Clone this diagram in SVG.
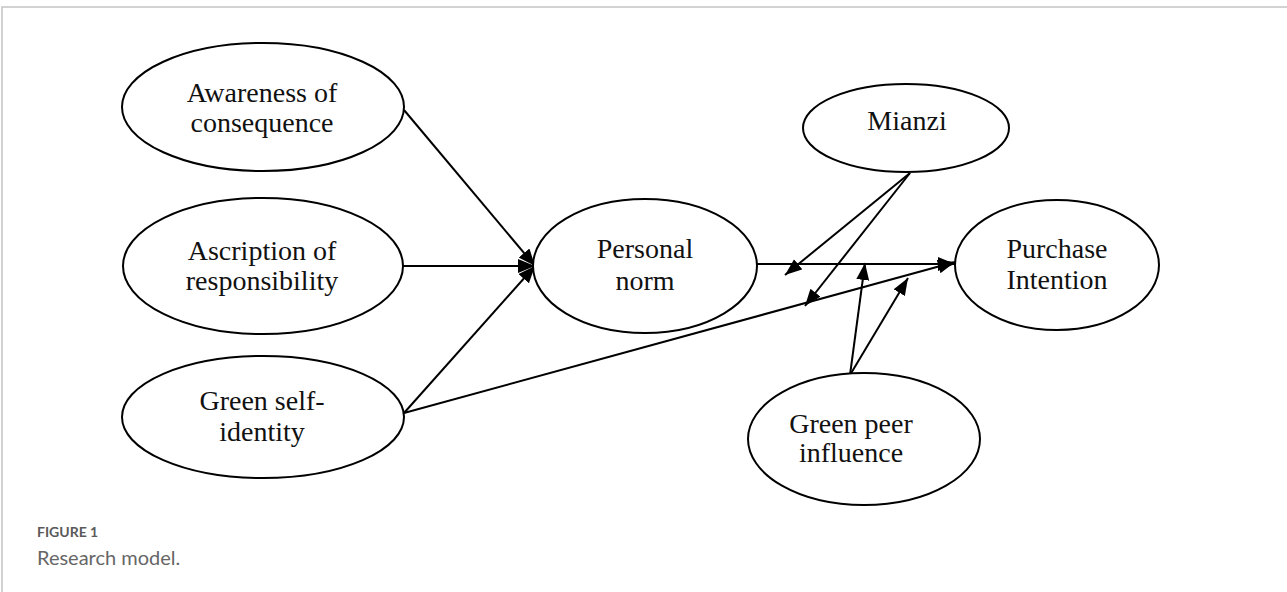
<svg xmlns="http://www.w3.org/2000/svg" width="1287" height="592" viewBox="0 0 1287 592">
<defs>
<style>
.node ellipse{fill:#fff;stroke:#000;stroke-width:2}
.node text{font-family:"Liberation Serif","Times New Roman",serif;font-size:28px;fill:#111;text-anchor:middle}
.conn line{stroke:#000;stroke-width:2}
.cap1{font-family:Lato,"Open Sans",sans-serif;font-size:14px;font-weight:700;fill:#5a5a5a}
.cap2{font-family:Lato,"Open Sans",sans-serif;font-size:20px;fill:#666}
</style>
<marker id="big" markerUnits="userSpaceOnUse" markerWidth="18" markerHeight="16" refX="17" refY="7" orient="auto">
<path d="M0,0 L17,7 L0,14 Z" fill="#000"/>
</marker>
<marker id="sm" markerUnits="userSpaceOnUse" markerWidth="18" markerHeight="14" refX="17" refY="6.5" orient="auto">
<path d="M0,0 L17,6.5 L0,13 Z" fill="#000"/>
</marker>
</defs>
<rect width="1287" height="592" fill="#fff"/>
<path d="M2,592 L2,7 L1287,7" fill="none" stroke="#c4c4c4" stroke-width="1.5"/>

<g class="conn" id="connectors">
<line x1="404" y1="110" x2="535" y2="266" marker-end="url(#big)"/>
<line x1="403" y1="266" x2="535" y2="266" marker-end="url(#big)"/>
<line x1="404" y1="413" x2="535" y2="266" marker-end="url(#big)"/>
<line x1="404" y1="413" x2="955" y2="262" marker-end="url(#big)"/>
<line x1="757" y1="264" x2="955" y2="264" marker-end="url(#big)"/>
<line x1="910" y1="173" x2="785" y2="275" marker-end="url(#sm)"/>
<line x1="910" y1="173" x2="805" y2="306" marker-end="url(#sm)"/>
<line x1="850" y1="375" x2="865" y2="263" marker-end="url(#sm)"/>
<line x1="850" y1="375" x2="908" y2="278" marker-end="url(#sm)"/>
</g>

<g class="node" id="awareness">
<ellipse cx="263" cy="107" rx="141" ry="64"/>
<text x="262" y="102">Awareness of</text>
<text x="262" y="132">consequence</text>
</g>
<g class="node" id="ascription">
<ellipse cx="263" cy="266" rx="140" ry="68"/>
<text x="262" y="260">Ascription of</text>
<text x="262" y="290">responsibility</text>
</g>
<g class="node" id="greenself">
<ellipse cx="263" cy="417" rx="141" ry="61"/>
<text x="262" y="410">Green self-</text>
<text x="262" y="441">identity</text>
</g>
<g class="node" id="personalnorm">
<ellipse cx="645" cy="266" rx="112" ry="67"/>
<text x="645" y="258">Personal</text>
<text x="645" y="290">norm</text>
</g>
<g class="node" id="mianzi">
<ellipse cx="906" cy="128" rx="103" ry="44"/>
<text x="907" y="130">Mianzi</text>
</g>
<g class="node" id="purchase">
<ellipse cx="1057" cy="265" rx="102" ry="65"/>
<text x="1057" y="258">Purchase</text>
<text x="1057" y="289">Intention</text>
</g>
<g class="node" id="greenpeer">
<ellipse cx="864" cy="439" rx="116" ry="66"/>
<text x="851" y="433">Green peer</text>
<text x="851" y="462">influence</text>
</g>

<text class="cap1" x="37" y="537">FIGURE 1</text>
<text class="cap2" x="37" y="565">Research model.</text>
</svg>
